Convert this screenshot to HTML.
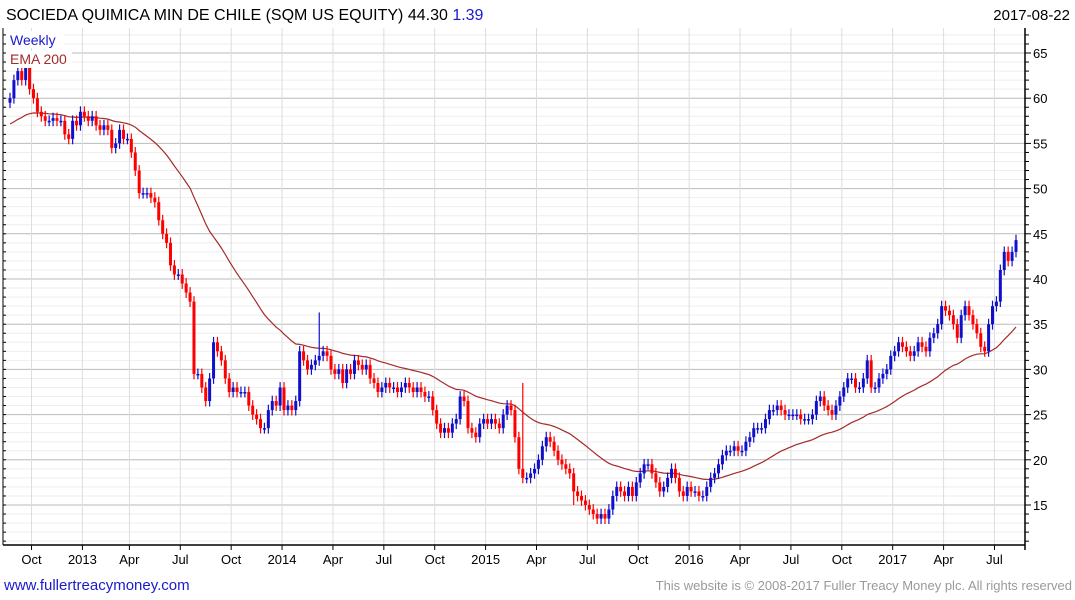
<!DOCTYPE html>
<html><head><meta charset="utf-8"><style>
body{margin:0;background:#fff;width:1075px;height:600px;overflow:hidden;font-family:"Liberation Sans",sans-serif}
</style></head><body>
<svg id="c" width="1075" height="600" style="position:absolute;left:0;top:0">
<text x="6" y="20" font-size="16" fill="#000">SOCIEDA QUIMICA MIN DE CHILE (SQM US EQUITY) 44.30 <tspan fill="#1a1acc">1.39</tspan></text>
<text x="1070" y="20" font-size="15" fill="#000" text-anchor="end">2017-08-22</text>
<g id="grid"></g><g id="ema"></g><g id="candles"></g><g id="axes"></g>
<rect x="6" y="31" width="58" height="17" fill="#fff"/>
<text x="10" y="45" font-size="14" fill="#1a1acc">Weekly</text>
<rect x="6" y="51" width="66" height="17" fill="#fff"/>
<text x="10" y="64" font-size="14" fill="#a52a2a">EMA 200</text>
<text x="4" y="590" font-size="15" fill="#1a1acc">www.fullertreacymoney.com</text>
<text x="1072" y="590" font-size="13" fill="#999" text-anchor="end">This website is © 2008-2017 Fuller Treacy Money plc. All rights reserved</text>
</svg>
<script>
const closes=[60,62,63,62,63.5,61,
60,58.5,58,57.5,57.5,57.8,57.5,57.5,56,55.5,57.5,57,58.5,
58,57.5,58,57,56.5,57,56.5,54.5,55,56.5,55.5,55.5,
54,52,49.5,49.5,49.5,49,48.5,46.5,45,44,41.5,40.5,40.5,
39.5,38.5,37.5,29.5,29.5,28,26.5,29,33,32,31,29,27.5,
28,27.5,27.5,27.5,26,25,24.5,23.5,23.5,25.5,26.5,26,28,
25.5,26,25.5,26.5,32,31,30,30.5,31,31.5,32,31.5,30,
29.5,30,28.5,30,29.5,31,30.5,30,30.5,29,28.5,27.5,28,
28.5,28,28,27.5,28,28.5,28,27.5,28,27.5,27,27,25.5,
24,23,23.5,23,24,24.5,27,26.5,23.5,23,22.5,24,24.5,
24,24.5,24,23.5,25,26,25.5,22.5,19,18,18,18.5,19,
20,21.5,22.5,22,21,20,19.5,19,18.5,16.5,16,15.5,15,
14.5,14,13.5,14,13.5,14.5,16,17,16.5,16,17,16,17.5,
18.5,19.5,19.5,18.5,17.5,16.5,17,18,19,18,16.5,16,17,
16.5,16.5,16,16,17,18,18.5,19.5,20.5,21,21,21.5,21,
21,22,22.5,23.5,23.5,23.5,24.5,25.5,25.5,26,25.5,25,25,
25,25,24.5,24.5,24.5,25,26.5,27,26,25.5,25,26,27,
28,29,29,28,28,29,31,28,28,29,29.5,30,31.5,
32,33,32.5,32,31.5,32,33,32.5,32,33.5,34,35,37,
36.5,36,35,33.5,36,37,36,35,34,32.5,32,35,37,
37.5,41,43,42,43,44.3];
const firstOpen=59.5;
const spikeIdx=[79,144,131];
const spikeVal=[36.3,15,28.5];
const emaSeed=57;
const emaPeriod=40;
const yTicks=[15,20,25,30,35,40,45,50,55,60,65];
const monthLabels=["Oct","2013","Apr","Jul","Oct","2014","Apr","Jul","Oct","2015","Apr","Jul","Oct","2016","Apr","Jul","Oct","2017","Apr","Jul"];
const monthWeek=[5.5,18.5,30.5,43.5,56.5,69.5,82.5,95.5,108.5,121.5,134.5,147.5,160.5,173.5,186.5,199.5,212.5,225.5,238.5,251.5];

const NS="http://www.w3.org/2000/svg";
const L=3,R=1025,T=28,B=545;
const x0=10,dx=(1016-10)/(closes.length-1);
const X=i=>x0+i*dx;
const Y=v=>505-(v-15)*9.04;
function mk(tag,at,parent){const e=document.createElementNS(NS,tag);for(const k in at)e.setAttribute(k,at[k]);document.getElementById(parent).appendChild(e);return e;}
for(let v=11;v<=67;v++){const y=Y(v);if(y<T||y>B)continue;
 const g=mk('line',{x1:L,x2:R,y1:y,y2:y,stroke:v%5==0?'#bbb':'#eee','stroke-width':1},'grid');
 
 
 const t=mk('line',{x1:R,x2:R+(v%5==0?6:4),y1:y,y2:y,stroke:'#000'},'axes');
 
 
 const t2=mk('line',{x1:L,x2:L+3,y1:y,y2:y,stroke:'#000'},'axes');
 
 
}
monthWeek.forEach((w,i)=>{const x=X(w);
 const g=mk('line',{x1:x,x2:x,y1:T,y2:B,stroke:'#ddd'},'grid');
 
 
 const tk=mk('line',{x1:x,x2:x,y1:B,y2:B+5,stroke:'#000'},'axes');
 
 
 const t=mk('text',{x:x,y:564,'font-size':13,'text-anchor':'middle',fill:'#000'},'axes');
 t.textContent=monthLabels[i];
 
 
});
yTicks.forEach(v=>{const t=mk('text',{x:1033,y:Y(v)+5,'font-size':13,fill:'#000'},'axes');
 t.textContent=v;
 
 });
const ax=mk('line',{x1:R,x2:R,y1:T,y2:B+5,stroke:'#000','stroke-width':1.5},'axes');


const bx=mk('line',{x1:L,x2:R,y1:B,y2:B,stroke:'#000','stroke-width':1.5},'axes');


const lx=mk('line',{x1:L,x2:L,y1:T,y2:B,stroke:'#000'},'axes');


let e=emaSeed,pts=[];const a=2/(emaPeriod+1);
closes.forEach((c,i)=>{e=e+a*(c-e);pts.push(X(i).toFixed(1)+','+Y(e).toFixed(1));});
const pl=mk('polyline',{points:pts.join(' '),fill:'none',stroke:'#a52a2a','stroke-width':1.2},'ema');


closes.forEach((c,i)=>{const o=i?closes[i-1]:firstOpen;
 const up=c>=o,col=up?'#1010cc':'#ff0000';
 let hi=Math.max(o,c)+0.6,lo=Math.min(o,c)-0.6;
 const si=spikeIdx.indexOf(i);if(si>=0){const s=spikeVal[si];if(s>hi)hi=s;if(s<lo)lo=s;}
 const x=X(i);
 const w=mk('line',{x1:x,x2:x,y1:Y(hi),y2:Y(lo),stroke:col,'stroke-width':1.2},'candles');
 
 
 const yt=Y(Math.max(o,c)),yb=Y(Math.min(o,c));
 const r=mk('rect',{x:x-1.5,y:yt,width:3,height:Math.max(1.5,yb-yt),fill:col},'candles');
 
 
});
</script>
</body></html>
